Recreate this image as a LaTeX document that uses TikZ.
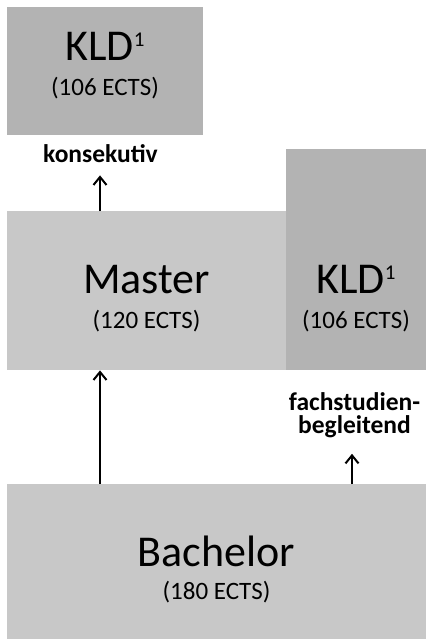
\documentclass[tikz,border=0pt]{standalone}
\usepackage{fontspec}
\setmainfont{Carlito}
\usetikzlibrary{arrows.meta}
\definecolor{boxdark}{HTML}{B3B3B3}
\definecolor{boxlight}{HTML}{C8C8C8}
\newcommand{\kldone}{KLD\raisebox{14pt}{\fontsize{21}{21}\selectfont 1}}
\begin{document}
\begin{tikzpicture}[x=1pt, y=-1pt,
        box/.style = {fill=#1, inner sep=0, anchor=north west},
        title/.style = {align=center, inner sep=0, font=\fontsize{44}{44}\selectfont},
        tag/.style = {align=center, inner sep=0, font=\bfseries\fontsize{25.5}{23}\selectfont},
        arr/.style = {line width=2pt, -{Straight Barb[length=8pt,width=13pt]}}]
                \useasboundingbox (0,0) rectangle (426,639);
                % boxes
                \node[box=boxdark, minimum width=196pt, minimum height=128pt] (kldtop) at (7,7) {};
                \node[box=boxlight, minimum width=279pt, minimum height=159pt] (master) at (7,211) {};
                \node[box=boxdark, minimum width=140pt, minimum height=221pt] (kldside) at (286,149) {};
                \node[box=boxlight, minimum width=419pt, minimum height=155pt] (bachelor) at (7,484) {};
                % texts
                \node[title] (kldtoptxt) at (105,65.5) {\kldone\\[-9pt]\fontsize{25}{35}\selectfont (106 ECTS)};
                \node[title] (mastertxt) at (146.5,298.5) {Master\\[-9pt]\fontsize{25}{35}\selectfont (120 ECTS)};
                \node[title] (kldsidetxt) at (356,298.5) {\kldone\\[-9pt]\fontsize{25}{35}\selectfont (106 ECTS)};
                \node[title] (bachelortxt) at (216.5,569.5) {Bachelor\\[-11pt]\fontsize{25}{33}\selectfont (180 ECTS)};
                \node[tag, anchor=base] (konsek) at (100.5,163) {konsekutiv};
                \node[tag] (fach) at (354.5,415) {fachstudien-\\begleitend};
        
                \draw[arr] (master.north -| 100,0) -- ([yshift=-12pt]konsek.south -| 100,0);
                \draw[arr] (bachelor.north -| 100,0) -- (master.south -| 100,0);
                \draw[arr] (bachelor.north -| 352,0) -- ([yshift=-16pt]fach.south -| 352,0);
            \end{tikzpicture}
\end{document}
